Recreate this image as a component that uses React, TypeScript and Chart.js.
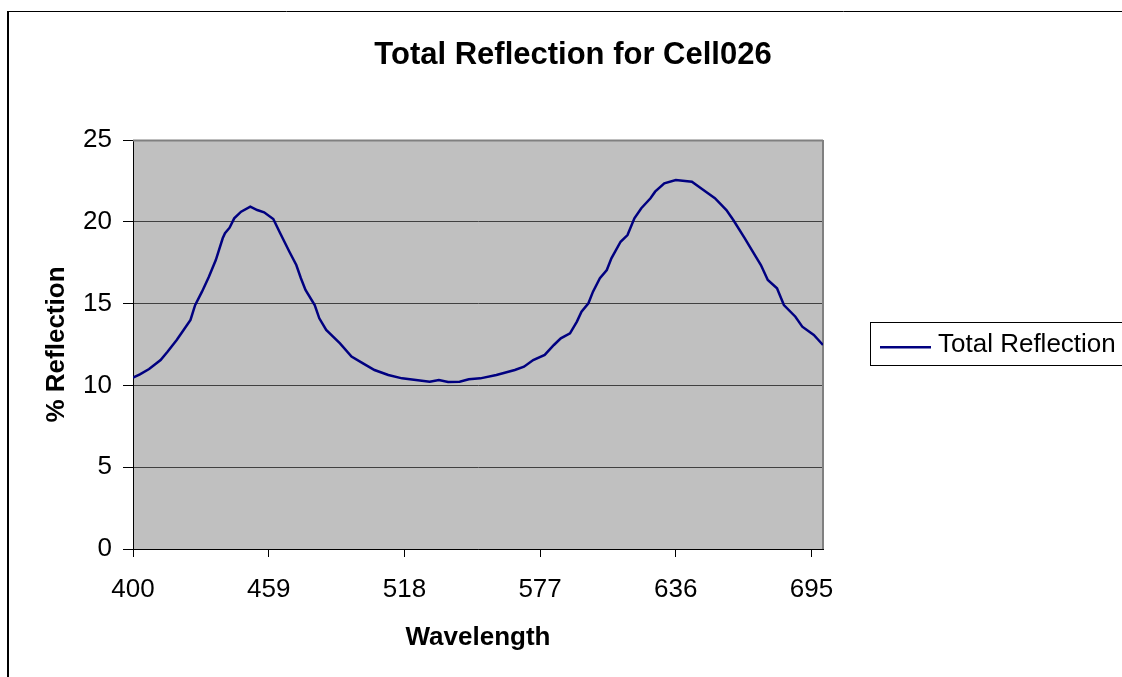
import React, { useEffect, useRef } from "react";
import { Chart, registerables } from "chart.js";

Chart.register(...registerables);

// ---- Data ----
const wavelengths = [
  400, 403, 407, 412, 415, 419, 422, 425, 427, 430, 433, 436, 439, 440, 442, 444, 447, 451, 454, 457,
  461, 464, 468, 471, 473, 475, 479, 481, 484, 490, 495, 500, 505, 511, 517, 523, 529, 533, 537, 542,
  546, 551, 558, 566, 570, 574, 579, 583, 586, 590, 593, 595, 598, 600, 603, 606, 608, 612, 615, 618,
  621, 625, 627, 631, 636, 643, 648, 653, 658, 661, 666, 669, 673, 676, 680, 683, 688, 691, 696, 700,
];
const reflection = [
  10.47, 10.68, 11.0, 11.55, 12.06, 12.78, 13.39, 14.0, 14.9, 15.73, 16.64, 17.66, 18.99, 19.3, 19.64, 20.21, 20.62, 20.93, 20.72, 20.58,
  20.17, 19.3, 18.17, 17.36, 16.55, 15.83, 14.91, 14.1, 13.39, 12.57, 11.76, 11.35, 10.94, 10.64, 10.43, 10.33, 10.23, 10.33, 10.21, 10.23,
  10.37, 10.43, 10.64, 10.94, 11.14, 11.55, 11.86, 12.47, 12.88, 13.18, 13.9, 14.51, 15.02, 15.73, 16.55, 17.05, 17.77, 18.78, 19.19, 20.21,
  20.83, 21.44, 21.84, 22.35, 22.55, 22.45, 21.94, 21.44, 20.72, 20.11, 18.99, 18.28, 17.36, 16.44, 15.94, 14.91, 14.2, 13.59, 13.08, 12.47,
];
const xTickValues = [400, 459, 518, 577, 636, 695];
const xMin = 400;
const xMax = 700;
const yMin = 0;
const yMax = 25;
const yStep = 5;

const chartTitle = "Total Reflection for Cell026";
const seriesLabel = "Total Reflection";
const xAxisTitle = "Wavelength";
const yAxisTitle = "% Reflection";

const FONT = '"Liberation Sans", Arial, Helvetica, sans-serif';

export default function App() {
  const canvasRef = useRef<HTMLCanvasElement | null>(null);

  useEffect(() => {
    document.body.style.margin = "0";
    const canvas = canvasRef.current;
    if (!canvas) return;

    const framePlugin = {
      id: "excelFrame",
      beforeDraw(chart: any) {
        const { ctx, chartArea: a } = chart;
        ctx.save();
        ctx.fillStyle = "#ffffff";
        ctx.fillRect(0, 0, chart.width, chart.height);
        ctx.fillStyle = "#C0C0C0";
        ctx.fillRect(a.left, a.top, a.right - a.left, a.bottom - a.top);
        // outer chart border
        ctx.strokeStyle = "#000000";
        ctx.lineWidth = 1;
        ctx.beginPath();
        ctx.moveTo(8, 11.5);
        ctx.lineTo(chart.width, 11.5);
        ctx.stroke();
        ctx.lineWidth = 2;
        ctx.beginPath();
        ctx.moveTo(8, 11);
        ctx.lineTo(8, chart.height);
        ctx.stroke();
        ctx.restore();
      },
      beforeDatasetsDraw(chart: any) {
        const { ctx, chartArea: a } = chart;
        ctx.save();
        ctx.strokeStyle = "#808080";
        ctx.lineWidth = 2;
        ctx.beginPath();
        ctx.moveTo(a.left, a.top + 0.5);
        ctx.lineTo(a.right, a.top + 0.5);
        ctx.moveTo(a.right, a.top);
        ctx.lineTo(a.right, a.bottom);
        ctx.stroke();
        ctx.restore();
      },
      afterDraw(chart: any) {
        const { ctx } = chart;
        const ds = chart.data.datasets[0];
        ctx.save();
        ctx.strokeStyle = "#000000";
        ctx.lineWidth = 1;
        ctx.strokeRect(870.5, 322.5, 320, 43);
        ctx.strokeStyle = ds.borderColor;
        ctx.lineWidth = 2.5;
        ctx.beginPath();
        ctx.moveTo(880, 347.3);
        ctx.lineTo(931, 347.3);
        ctx.stroke();
        ctx.fillStyle = "#000000";
        ctx.font = `26px ${FONT}`;
        ctx.textBaseline = "middle";
        ctx.textAlign = "left";
        ctx.fillText(ds.label, 938, 345);
        ctx.restore();
      },
    };

    const chart = new Chart(canvas, {
      type: "line",
      data: {
        datasets: [
          {
            label: seriesLabel,
            data: wavelengths.map((w, i) => ({ x: w, y: reflection[i] })),
            borderColor: "#000080",
            backgroundColor: "#000080",
            borderWidth: 2.5,
            pointRadius: 0,
            tension: 0,
            fill: false,
          },
        ],
      },
      options: {
        animation: false,
        responsive: true,
        maintainAspectRatio: false,
        layout: { padding: { left: 24, right: 0, top: 0, bottom: 0 } },
        plugins: {
          legend: { display: false },
          tooltip: { enabled: false },
          title: {
            display: true,
            text: chartTitle,
            color: "#000000",
            font: { family: FONT, size: 31, weight: "bold" },
            padding: { top: 37, bottom: 65.8 },
          },
        },
        scales: {
          x: {
            type: "linear",
            min: xMin,
            max: xMax,
            afterBuildTicks: (scale: any) => {
              scale.ticks = xTickValues.map((v) => ({ value: v }));
            },
            afterFit: (scale: any) => {
              scale.height = 128;
            },
            grid: {
              drawOnChartArea: false,
              drawTicks: true,
              tickLength: 8,
              color: "#000000",
            },
            border: { display: true, color: "#000000", width: 1 },
            ticks: {
              autoSkip: false,
              maxRotation: 0,
              padding: 17,
              color: "#000000",
              font: { family: FONT, size: 26 },
              callback: (v: any) => String(v),
            },
            title: {
              display: true,
              text: xAxisTitle,
              color: "#000000",
              font: { family: FONT, size: 26, weight: "bold" },
              padding: { top: 0, bottom: 23.5 },
            },
          },
          y: {
            type: "linear",
            position: "left",
            min: yMin,
            max: yMax,
            afterFit: (scale: any) => {
              scale.width = 109;
            },
            grid: {
              color: "#404040",
              tickColor: "#000000",
              tickLength: 10,
              drawTicks: true,
            },
            border: { display: true, color: "#000000", width: 1 },
            ticks: {
              stepSize: yStep,
              padding: 11,
              color: "#000000",
              font: { family: FONT, size: 26 },
            },
            title: {
              display: true,
              text: yAxisTitle,
              color: "#000000",
              font: { family: FONT, size: 26, weight: "bold" },
              padding: { top: 17, bottom: 0 },
            },
          },
          yRightSpace: {
            type: "linear",
            position: "right",
            display: true,
            min: 0,
            max: 1,
            afterFit: (scale: any) => {
              scale.width = 299;
            },
            grid: { display: false, drawTicks: false },
            border: { display: false },
            ticks: { display: false },
          },
        },
      },
      plugins: [framePlugin],
    } as any);

    return () => {
      chart.destroy();
    };
  }, []);

  return (
    <div style={{ position: "relative", width: "1122px", height: "677px", overflow: "hidden" }}>
      <canvas ref={canvasRef} />
    </div>
  );
}
